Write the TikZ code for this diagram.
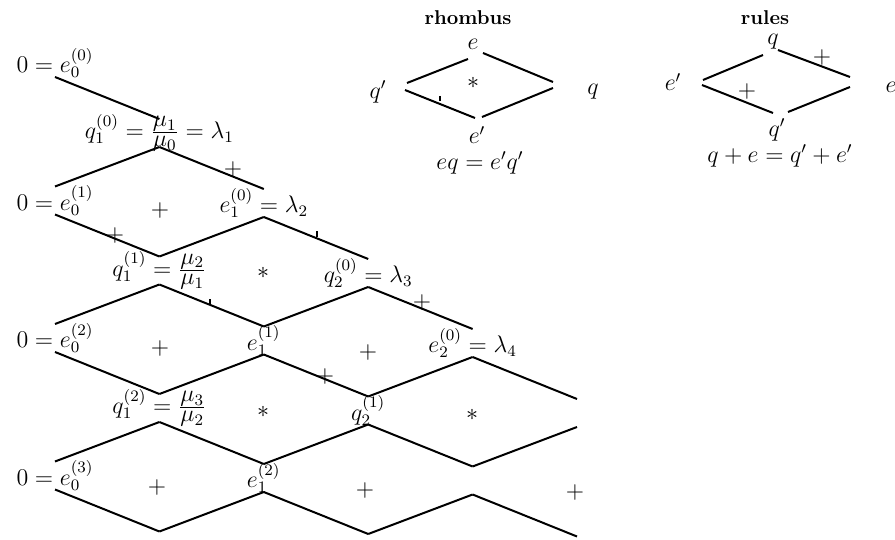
\documentclass[tikz,border=0pt]{standalone}
\begin{document}
\begin{tikzpicture}[x=0.5pt,y=-0.5pt,
  lbl/.style={inner sep=0pt, font=\fontsize{12}{14}\selectfont},
  ttl/.style={inner sep=0pt, font=\bfseries},
  zig/.style={line width=1pt},
  tick/.style={line width=0.6pt}]
\useasboundingbox (0,0) rectangle (895,540);
% grid vertices (centre), upper apex (t), lower apex (b)
\foreach \i in {0,...,5}{
  \foreach \n in {0,...,3}{
    \coordinate (v\i\n) at ({55+104.4*\i},{63+70*\i+137.5*\n});
    \coordinate (t\i\n) at ({55+104.4*\i},{63+70*\i+137.5*\n-14});
    \coordinate (b\i\n) at ({55+104.4*\i},{63+70*\i+137.5*\n+14});
  }}
% down-right edges
\foreach \i/\n [evaluate=\i as \j using {int(\i+1)}] in
  {0/0,1/0,2/0,3/0,4/0,0/1,1/1,2/1,3/1,4/1,0/2,1/2,2/2,0/3}
  {\draw[zig] (b\i\n) -- (t\j\n);}
% up-right edges
\foreach \i/\n [evaluate=\i as \j using {int(\i+1)}, evaluate=\n as \m using {int(\n+1)}] in
  {0/0,1/0,2/0,3/0,4/0,0/1,1/1,2/1,3/1,0/2,1/2}
  {\draw[zig] (t\i\m) -- (b\j\n);}
% vertex labels
\node[lbl] (L00) at (v00) {$0 = e_0^{(0)}$};
\node[lbl] (L10) at (v10) {$q_1^{(0)} = \frac{\textstyle\mu_1}{\textstyle\mu_0} = \lambda_1$};
\node[lbl] (L20) at (v20) {$e_1^{(0)} = \lambda_2$};
\node[lbl] (L30) at (v30) {$q_2^{(0)} = \lambda_3$};
\node[lbl] (L40) at (v40) {$e_2^{(0)} = \lambda_4$};
\node[lbl] (L01) at (v01) {$0 = e_0^{(1)}$};
\node[lbl] (L11) at (v11) {$q_1^{(1)} = \frac{\textstyle\mu_2}{\textstyle\mu_1}$};
\node[lbl] (L21) at (v21) {$e_1^{(1)}$};
\node[lbl] (L31) at (v31) {$q_2^{(1)}$};
\node[lbl] (L02) at (v02) {$0 = e_0^{(2)}$};
\node[lbl] (L12) at (v12) {$q_1^{(2)} = \frac{\textstyle\mu_3}{\textstyle\mu_2}$};
\node[lbl] (L22) at (v22) {$e_1^{(2)}$};
\node[lbl] (L03) at (v03) {$0 = e_0^{(3)}$};
% cell marks
\node[lbl] (c1) at (160,210) {$+$};
\node[lbl] (c2) at (263,273) {$*$};
\node[lbl] (c3) at (160,348) {$+$};
\node[lbl] (c4) at (368,352) {$+$};
\node[lbl] (c5) at (263,412) {$*$};
\node[lbl] (c6) at (472,415) {$*$};
\node[lbl] (c7) at (157,487) {$+$};
\node[lbl] (c8) at (365,490) {$+$};
\node[lbl] (c9) at (575,492) {$+$};
% marks on edges
\node[lbl] (m1) at (233,170) {$+$};
\node[lbl] (m2) at (115,236) {$+$};
\node[lbl] (m3) at (325,376) {$+$};
\node[lbl] (m4) at (422,302) {$+$};
\draw[tick] (210,299) -- (210,305);
\draw[tick] (317,231) -- (317,237);
\draw[tick] (440,96) -- (440,101);
% rhombus figure
\node[ttl] (rtitle) at (468,18) {rhombus};
\coordinate (ra1) at (407,83); \coordinate (ra2) at (468,59);
\coordinate (rb1) at (483,53); \coordinate (rb2) at (553,82);
\coordinate (rc1) at (405,90); \coordinate (rc2) at (475,118);
\coordinate (rd1) at (482,117); \coordinate (rd2) at (553,88);
\draw[zig] (ra1) -- (ra2);
\draw[zig] (rb1) -- (rb2);
\draw[zig] (rc1) -- (rc2);
\draw[zig] (rd1) -- (rd2);
\node[lbl] (re) at (473,44) {$e$};
\node[lbl] (rq') at (378,92) {$q'$};
\node[lbl] (rq) at (593,92) {$q$};
\node[lbl] (re') at (477,135) {$e'$};
\node[lbl] (rs) at (473,83) {$*$};
\node[lbl] (rf) at (480,163) {$eq = e'q'$};
% rules figure
\node[ttl] (utitle) at (765,18) {rules};
\coordinate (ua1) at (703,80); \coordinate (ua2) at (763,55);
\coordinate (ub1) at (778,50); \coordinate (ub2) at (850,77);
\coordinate (uc1) at (702,85); \coordinate (uc2) at (773,113);
\coordinate (ud1) at (788,112); \coordinate (ud2) at (850,87);
\draw[zig] (ua1) -- (ua2);
\draw[zig] (ub1) -- (ub2);
\draw[zig] (uc1) -- (uc2);
\draw[zig] (ud1) -- (ud2);
\node[lbl] (uq) at (773,42) {$q$};
\node[lbl] (ue') at (673,82) {$e'$};
\node[lbl] (ue) at (891,87) {$e$};
\node[lbl] (uq') at (777,130) {$q'$};
\node[lbl] (up1) at (822,58) {$+$};
\node[lbl] (up2) at (747,92) {$+$};
\node[lbl] (uf) at (780,156) {$q + e = q' + e'$};
\end{tikzpicture}
\end{document}
